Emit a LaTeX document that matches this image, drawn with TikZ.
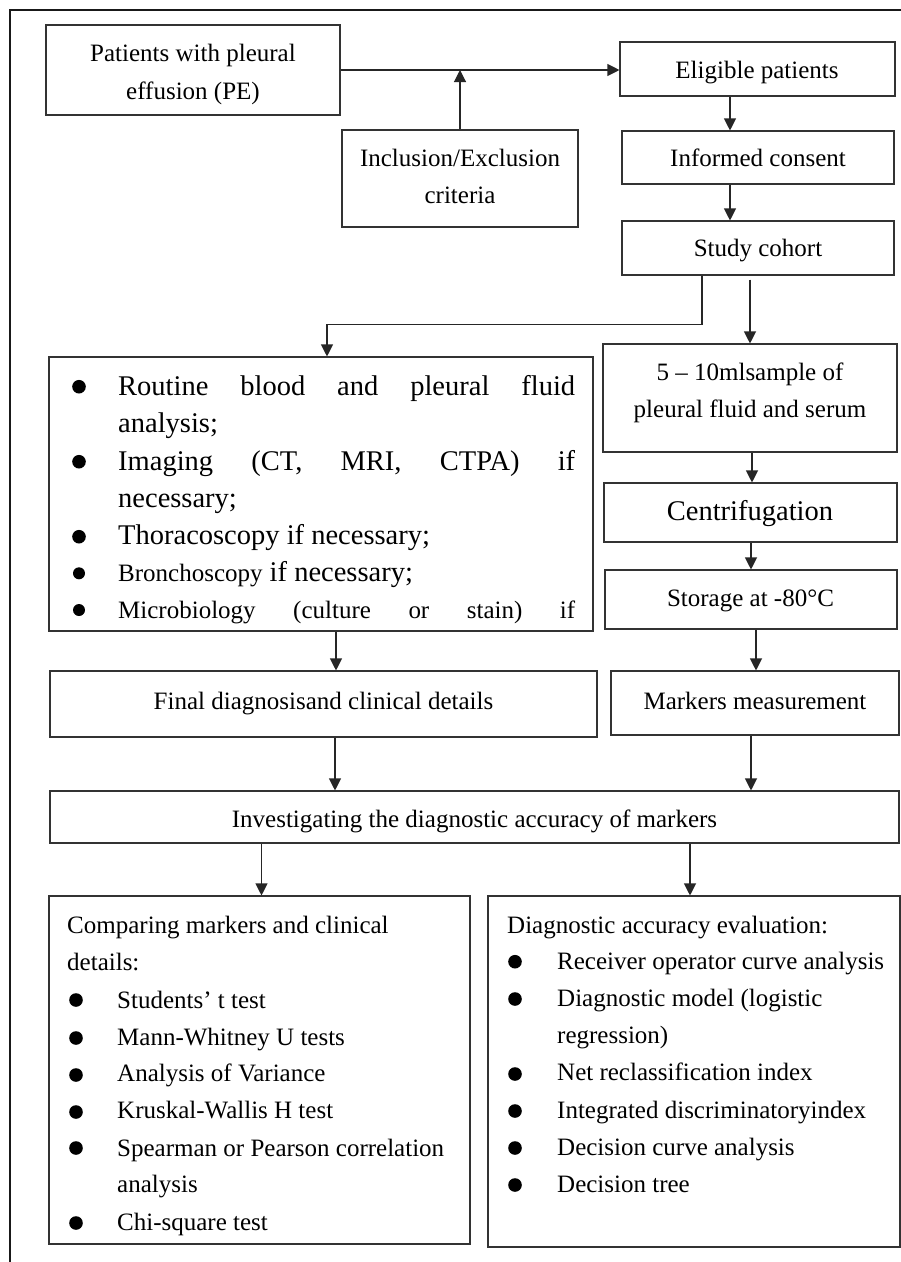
\documentclass[tikz,border=0pt]{standalone}
\usepackage{fontspec}
\setmainfont{Liberation Serif}
\usetikzlibrary{arrows.meta}
\begin{document}
\begin{tikzpicture}[x=1pt,y=-1pt,
  box/.style={draw=black!80, line width=1.1pt, rectangle, inner sep=0pt},
  txt/.style={inner sep=0pt, anchor=base, font=\fontsize{25pt}{30pt}\selectfont},
  txtl/.style={txt, anchor=base west},
  big/.style={font=\fontsize{28.5pt}{34pt}\selectfont},
  arr/.style={draw=black!85, line width=1.1pt, -{Triangle[length=12pt,width=12pt]}},
  dot/.style={fill=black}
]
\fill[white] (0,0) rectangle (901,1262);
\useasboundingbox (0,0) rectangle (901,1262);
% outer frame
\draw[line width=2pt, black!90] (10,1270) -- (10,10) -- (910,10);

% boxes
\node[box, minimum width=294pt, minimum height=90pt] (pat) at (193,70) {};
\node[box, minimum width=236pt, minimum height=97pt] (inc) at (460,178.5) {};
\node[box, minimum width=275pt, minimum height=54pt] (elig) at (757.5,69) {};
\node[box, minimum width=272pt, minimum height=53pt] (cons) at (758,157.5) {};
\node[box, minimum width=272pt, minimum height=54pt] (coh) at (758,248) {};
\node[box, minimum width=294pt, minimum height=108pt] (samp) at (750,398) {};
\node[box, minimum width=293pt, minimum height=59pt] (centr) at (750.5,512.5) {};
\node[box, minimum width=292pt, minimum height=59pt] (stor) at (751,599.5) {};
\node[box, minimum width=288pt, minimum height=64pt] (mark) at (755,703) {};
\node[box, minimum width=544pt, minimum height=274pt] (tests) at (321,494) {};
\node[box, minimum width=547pt, minimum height=66pt] (fin) at (323.5,704) {};
\node[box, minimum width=849pt, minimum height=52pt] (inv) at (474.5,817) {};
\node[box, minimum width=421pt, minimum height=348pt] (cmp) at (259.5,1070) {};
\node[box, minimum width=412pt, minimum height=351pt] (dia) at (694,1071.5) {};

% simple texts
\node[txt] (patT1) at (193,61.7) {Patients with pleural};
\node[txt] (patT2) at (193,99) {effusion (PE)};
\node[txt] (incT1) at (460,166.7) {Inclusion/Exclusion};
\node[txt] (incT2) at (460,203.3) {criteria};
\node[txt] (eligT) at (757,78.3) {Eligible patients};
\node[txt] (consT) at (758,166.7) {Informed consent};
\node[txt] (cohT) at (758,256.7) {Study cohort};
\node[txt] (sampT1) at (750,380) {5 – 10mlsample of};
\node[txt] (sampT2) at (750,417.3) {pleural fluid and serum};
\node[txt, big] (centrT) at (750,520) {Centrifugation};
\node[txt] (storT) at (750.5,606.7) {Storage at -80°C};
\node[txt] (finT) at (323.5,709.3) {Final diagnosisand clinical details};
\node[txt] (markT) at (755,709.3) {Markers measurement};
\node[txt] (invT) at (474.5,827.3) {Investigating the diagnostic accuracy of markers};

% tests list
\node[txtl, big] (t1) at (118,395) {\makebox[457pt][s]{Routine blood and pleural fluid}};
\node[txtl, big] (t2) at (118,432.5) {analysis;};
\node[txtl, big] (t3) at (118,470) {\makebox[457pt][s]{Imaging (CT, MRI, CTPA) if}};
\node[txtl, big] (t4) at (118,507) {necessary;};
\node[txtl, big] (t5) at (118,544) {Thoracoscopy if necessary;};
\node[txtl, big] (t6) at (118,581) {{\fontsize{25pt}{30pt}\selectfont Bronchoscopy} if necessary;};
\node[txtl] (t7) at (118,618) {\makebox[457pt][s]{Microbiology (culture or stain) if}};
\fill[dot] (79,386.7) circle[radius=6.8pt];
\fill[dot] (79,461.7) circle[radius=6.8pt];
\fill[dot] (79,536.7) circle[radius=6.8pt];
\fill[dot] (79,573.3) circle[radius=6pt];
\fill[dot] (79,610) circle[radius=6pt];

% comparing list
\node[txtl] (c0) at (67,933) {Comparing markers and clinical};
\node[txtl] (c0b) at (67,970) {details:};
\node[txtl] (c1) at (117,1008) {Students’ t test};
\node[txtl] (c2) at (117,1045) {Mann-Whitney U tests};
\node[txtl] (c3) at (117,1081.7) {Analysis of Variance};
\node[txtl] (c4) at (117,1118) {Kruskal-Wallis H test};
\node[txtl] (c5) at (117,1156) {Spearman or Pearson correlation};
\node[txtl] (c5b) at (117,1192.7) {analysis};
\node[txtl] (c6) at (117,1230) {Chi-square test};
\foreach \yy in {1000,1038,1075,1112,1148,1223} \fill[dot] (76,\yy) circle[radius=6.8pt];

% diagnostic list
\node[txtl] (d0) at (507,933) {Diagnostic accuracy evaluation:};
\node[txtl] (d1) at (557,969) {Receiver operator curve analysis};
\node[txtl] (d2) at (557,1006.7) {Diagnostic model (logistic};
\node[txtl] (d2b) at (557,1043) {regression)};
\node[txtl] (d3) at (557,1080.7) {Net reclassification index};
\node[txtl] (d4) at (557,1118) {Integrated discriminatoryindex};
\node[txtl] (d5) at (557,1155) {Decision curve analysis};
\node[txtl] (d6) at (557,1192.7) {Decision tree};
\foreach \yy in {961.7,999,1074,1111,1148,1185} \fill[dot] (515,\yy) circle[radius=6.8pt];

% connectors
\draw[arr] (pat.east) -- (elig.west |- pat.east);
\draw[arr] (inc.north) -- (inc.north |- pat.east);
\draw[arr] ([xshift=-27.5pt]elig.south) -- ([xshift=-28pt]cons.north);
\draw[arr] ([xshift=-28pt]cons.south) -- ([xshift=-28pt]coh.north);
\draw[arr] ([xshift=-56pt]coh.south) -- ++(0,49) -| ([xshift=6pt]tests.north);
\draw[arr] ([xshift=-8pt,yshift=-4pt]coh.south) -- (samp.north);
\draw[arr] ([xshift=2pt]samp.south) -- ([xshift=1.5pt]centr.north);
\draw[arr] ([xshift=0.5pt]centr.south) -- (stor.north);
\draw[arr] ([xshift=5pt]stor.south) -- ([xshift=1pt]mark.north);
\draw[arr] ([xshift=15pt]tests.south) -- ([xshift=12.5pt]fin.north);
\draw[arr] ([xshift=11.5pt]fin.south) -- ([xshift=-139.5pt]inv.north);
\draw[arr] ([xshift=-4pt]mark.south) -- ([xshift=276.5pt]inv.north);
\draw[arr] ([xshift=-213pt]inv.south) -- ([xshift=2pt]cmp.north);
\draw[arr] ([xshift=215.5pt]inv.south) -- ([xshift=-4pt]dia.north);
\end{tikzpicture}
\end{document}
